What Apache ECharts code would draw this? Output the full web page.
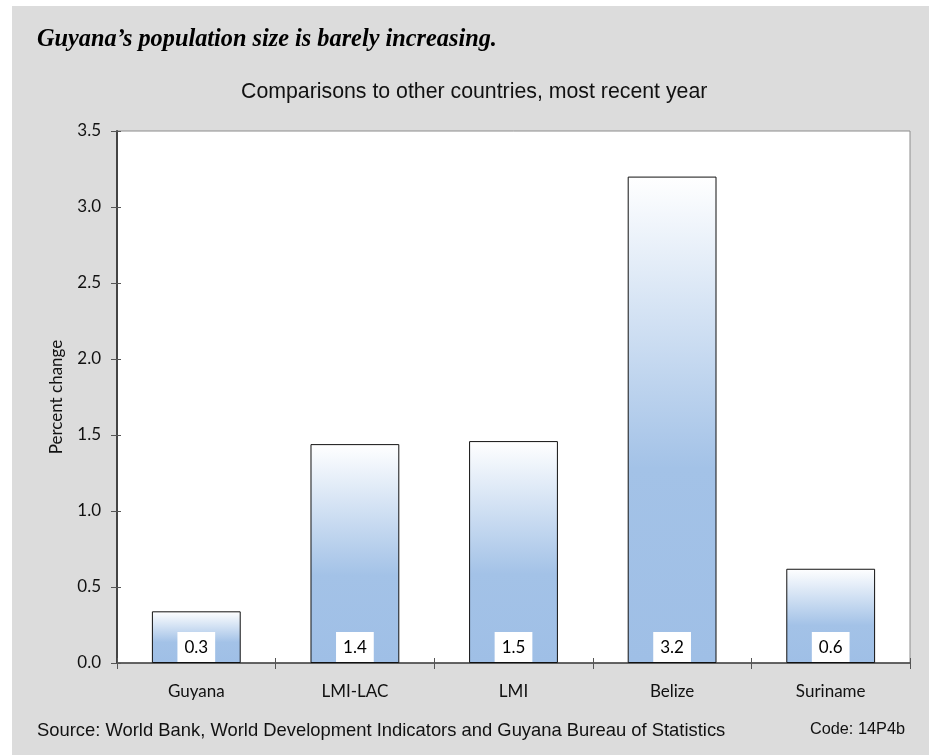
<!DOCTYPE html>
<html>
<head>
<meta charset="utf-8">
<script src="https://cdn.jsdelivr.net/npm/echarts@6/dist/echarts.min.js"></script>
<style>html,body{margin:0;padding:0;background:#fff;}#c{width:929px;height:755px;}</style>
</head>
<body>
<div id="c"></div>
<script>
var categories = ['Guyana', 'LMI-LAC', 'LMI', 'Belize', 'Suriname'];
var values = [0.34, 1.44, 1.46, 3.20, 0.62];
var labels = ['0.3', '1.4', '1.5', '3.2', '0.6'];
var yTicks = { min: 0, max: 3.5, interval: 0.5 };

var titleText = 'Guyana\u2019s population size is barely increasing.';
var subtitleText = 'Comparisons to other countries, most recent year';
var sourceText = 'Source: World Bank, World Development Indicators and Guyana Bureau of Statistics';
var codeText = 'Code: 14P4b';

var chart = echarts.init(document.getElementById('c'), null, { renderer: 'canvas' });
var labelFont = 'Lato, "DejaVu Sans", sans-serif';
var barColor = new echarts.graphic.LinearGradient(0, 0, 0, 1, [
  { offset: 0, color: '#ffffff' },
  { offset: 0.6, color: '#a3c2e7' },
  { offset: 1, color: '#9fbfe6' }
]);

chart.setOption({
  animation: false,
  backgroundColor: '#ffffff',
  graphic: [
    { type: 'rect', z: -10, shape: { x: 12, y: 6, width: 917, height: 749 }, style: { fill: '#dcdcdc' } },
    { type: 'text', left: 37, top: 28, style: { text: titleText, font: 'italic bold 24.3px "Liberation Serif", "Times New Roman", serif', fill: '#000' } },
    { type: 'text', left: 241, top: 82, style: { text: subtitleText, font: '21.3px "Liberation Sans", Arial, sans-serif', fill: '#111' } },
    { type: 'text', left: 37, top: 722, style: { text: sourceText, font: '18.4px "Liberation Sans", Arial, sans-serif', fill: '#111' } },
    { type: 'text', right: 24, top: 722, style: { text: codeText, font: '16.3px "Liberation Sans", Arial, sans-serif', fill: '#111' } }
  ],
  grid: { left: 117, right: 19, top: 131, bottom: 92, show: true, backgroundColor: '#ffffff', borderColor: '#8c8c8c', borderWidth: 1 },
  xAxis: [
    {
      type: 'category', data: categories, position: 'bottom',
      axisLine: { show: true, lineStyle: { color: '#444', width: 1.5 } },
      axisTick: { show: true, inside: false, length: 6, lineStyle: { color: '#555' } },
      axisLabel: { margin: 20, fontFamily: labelFont, fontSize: 17, color: '#111' }
    },
    {
      type: 'category', data: categories, position: 'bottom',
      axisLine: { show: false },
      axisTick: { show: true, inside: true, length: 5, lineStyle: { color: '#555' } },
      axisLabel: { show: false }
    }
  ],
  yAxis: [
    {
      type: 'value', min: yTicks.min, max: yTicks.max, interval: yTicks.interval, position: 'left',
      name: 'Percent change', nameLocation: 'middle', nameGap: 52,
      nameTextStyle: { fontFamily: labelFont, fontSize: 17, color: '#111' },
      axisLine: { show: true, lineStyle: { color: '#444', width: 2 } },
      axisTick: { show: true, inside: false, length: 6, lineStyle: { color: '#555' } },
      axisLabel: { margin: 16, fontFamily: labelFont, fontSize: 17, color: '#111', formatter: function (v) { return v.toFixed(1); } },
      splitLine: { show: false }
    },
    {
      type: 'value', min: yTicks.min, max: yTicks.max, interval: yTicks.interval, position: 'left',
      axisLine: { show: false },
      axisTick: { show: true, inside: true, length: 4, lineStyle: { color: '#555' } },
      axisLabel: { show: false },
      splitLine: { show: false }
    }
  ],
  series: [{
    type: 'bar', data: values, xAxisIndex: 0, yAxisIndex: 0, barWidth: '56%',
    itemStyle: { color: barColor, borderColor: '#111', borderWidth: 1 },
    label: {
      show: true, position: 'insideBottom', distance: 1,
      formatter: function (p) { return labels[p.dataIndex]; },
      backgroundColor: '#ffffff', padding: [7, 7, 6, 7],
      fontFamily: labelFont, fontSize: 17, color: '#000'
    }
  }]
});
</script>
</body>
</html>
